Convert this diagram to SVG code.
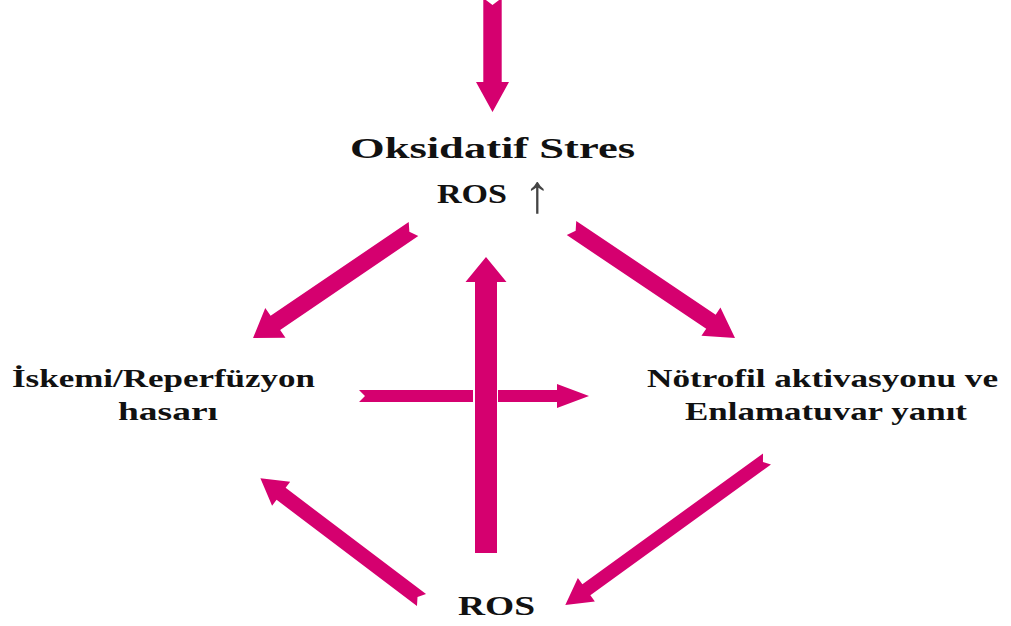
<svg xmlns="http://www.w3.org/2000/svg" width="1011" height="626" viewBox="0 0 1011 626">
<style>
.a{fill:#D5006F;}
.t{font-family:"Liberation Serif","Times New Roman",serif;font-weight:bold;fill:#111;}
.ar{font-family:"Liberation Serif","DejaVu Serif",serif;font-weight:normal;fill:#444;}
</style>
<rect width="1011" height="626" fill="#fff"/>
<g id="connectors">
  <!-- top incoming arrow -->
  <polygon class="a" transform="translate(492.5,-2) rotate(90)" points="0,-9.2 84,-9.2 84,-16.5 114,0 84,16.5 84,9.2 0,9.2 7,0"/>
  <!-- Oksidatif -> Iskemi -->
  <polygon class="a" transform="translate(413.5,229) rotate(145.8)" points="0,-8.5 167,-8.5 167,-18 194,0 167,18 167,8.5 0,8.5 5,0"/>
  <!-- Oksidatif -> Notrofil -->
  <polygon class="a" transform="translate(571.5,228) rotate(33.9)" points="0,-8.5 168,-8.5 168,-17 197,0 168,17 168,8.5 0,8.5 5,0"/>
  <!-- ROS -> Iskemi -->
  <polygon class="a" transform="translate(421.5,600) rotate(-142.9)" points="0,-7.5 176,-7.5 176,-15 202,0 176,15 176,7.5 0,7.5 5,0"/>
  <!-- Notrofil -> ROS -->
  <polygon class="a" transform="translate(767,459) rotate(144.1)" points="0,-6.8 223,-6.8 223,-14.5 249,0 223,14.5 223,6.8 0,6.8 5,0"/>
  <!-- Iskemi -> Notrofil (broken around vertical) -->
  <polygon class="a" points="359,390 473,390 473,402 359,402 365,396"/>
  <polygon class="a" points="498,390 557,390 557,384 589,396 557,408 557,402 498,402"/>
  <!-- ROS -> Oksidatif (vertical up) -->
  <polygon class="a" points="475,553 475,282 465.5,282 486,257 506.5,282 497,282 497,553"/>
</g>
<g id="node-oksidatif">
  <text class="t" x="492.5" y="158" font-size="30" text-anchor="middle" textLength="285" lengthAdjust="spacingAndGlyphs">Oksidatif Stres</text>
  <text class="t" x="472" y="203" font-size="28" text-anchor="middle" textLength="70" lengthAdjust="spacingAndGlyphs">ROS</text>
  <text class="ar" x="537.5" y="212" font-size="54" text-anchor="middle">↑</text>
</g>
<g id="node-iskemi">
  <text class="t" x="163.5" y="387" font-size="26" text-anchor="middle" textLength="303" lengthAdjust="spacingAndGlyphs">İskemi/Reperfüzyon</text>
  <text class="t" x="168" y="420" font-size="26" text-anchor="middle" textLength="100" lengthAdjust="spacingAndGlyphs">hasarı</text>
</g>
<g id="node-notrofil">
  <text class="t" x="822.5" y="387" font-size="26" text-anchor="middle" textLength="351" lengthAdjust="spacingAndGlyphs">Nötrofil aktivasyonu ve</text>
  <text class="t" x="826" y="420" font-size="26" text-anchor="middle" textLength="282" lengthAdjust="spacingAndGlyphs">Enlamatuvar yanıt</text>
</g>
<g id="node-ros">
  <text class="t" x="496.5" y="615" font-size="27" text-anchor="middle" textLength="77" lengthAdjust="spacingAndGlyphs">ROS</text>
</g>
</svg>
